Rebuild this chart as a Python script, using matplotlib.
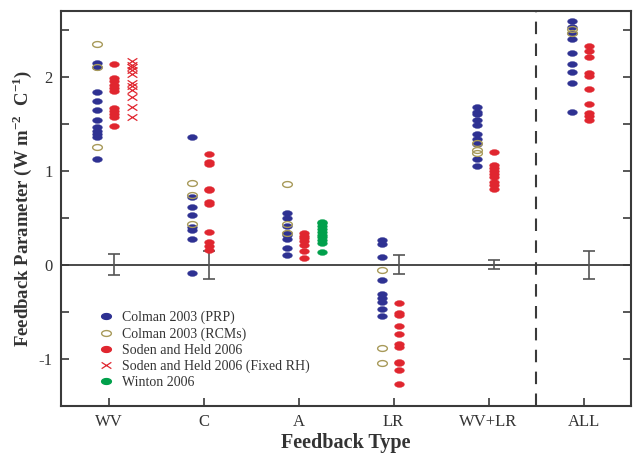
import numpy as np
import matplotlib
matplotlib.use("Agg")
import matplotlib.pyplot as plt
from matplotlib.path import Path
from matplotlib.lines import Line2D

categories = ["WV", "C", "A", "LR", "WV+LR", "ALL"]

colman_prp = [
    [2.15, 2.10, 1.84, 1.74, 1.65, 1.54, 1.47, 1.42, 1.39, 1.36, 1.13],
    [1.36, 0.72, 0.61, 0.53, 0.40, 0.37, 0.27, -0.09],
    [0.555, 0.50, 0.41, 0.34, 0.32, 0.27, 0.18, 0.10],
    [0.265, 0.22, 0.08, -0.16, -0.31, -0.35, -0.40, -0.47, -0.55],
    [1.68, 1.62, 1.60, 1.545, 1.49, 1.39, 1.34, 1.28, 1.12, 1.05],
    [2.59, 2.53, 2.47, 2.40, 2.25, 2.14, 2.05, 1.93, 1.63],
]
colman_rcm = [
    [2.35, 2.10, 1.25],
    [0.87, 0.74, 0.43],
    [0.86, 0.43, 0.34],
    [-0.06, -0.89, -1.05],
    [1.30, 1.22, 1.19],
    [2.51, 2.47],
]
soden = [
    [2.14, 1.99, 1.96, 1.91, 1.88, 1.85, 1.67, 1.64, 1.60, 1.57, 1.48],
    [1.18, 1.09, 1.07, 0.81, 0.79, 0.67, 0.65, 0.35, 0.24, 0.20, 0.16],
    [0.34, 0.31, 0.28, 0.25, 0.21, 0.15, 0.07],
    [-0.41, -0.51, -0.54, -0.65, -0.74, -0.84, -0.88, -1.03, -1.05, -1.12, -1.27],
    [1.20, 1.06, 1.03, 1.00, 0.97, 0.93, 0.88, 0.85, 0.81],
    [2.33, 2.27, 2.21, 2.04, 2.01, 1.87, 1.71, 1.61, 1.58, 1.54],
]
soden_fixed_rh_wv = [2.17, 2.13, 2.10, 2.07, 2.03, 1.93, 1.90, 1.86, 1.78, 1.68, 1.57]
winton_a = [0.46, 0.44, 0.41, 0.38, 0.35, 0.32, 0.29, 0.26, 0.23, 0.14]

err_categories = ["WV", "C", "LR", "WV+LR", "ALL"]
err_half = [0.11, 0.15, 0.10, 0.05, 0.15]

legend_labels = ["Colman 2003 (PRP)", "Colman 2003 (RCMs)", "Soden and Held 2006",
                 "Soden and Held 2006 (Fixed RH)", "Winton 2006"]

BLUE = "#2E3192"
TAN = "#A89A5A"
RED = "#E0262F"
GREEN = "#00A04B"
DARK = "#3a3a3a"

plt.rcParams['font.family'] = ['Liberation Serif', 'DejaVu Serif']
plt.rcParams['mathtext.fontset'] = 'custom'
plt.rcParams['mathtext.rm'] = 'Liberation Serif'
plt.rcParams['mathtext.bf'] = 'Liberation Serif:bold'

# ellipse marker
t = np.linspace(0, 2 * np.pi, 60)
ell = Path(np.column_stack([np.cos(t), 0.6 * np.sin(t)]), closed=True)
xmark = Path([(-1, -0.65), (1, 0.65), (-1, 0.65), (1, -0.65)],
             [Path.MOVETO, Path.LINETO, Path.MOVETO, Path.LINETO])

fig = plt.figure(figsize=(6.33, 4.54), dpi=100)
ax = fig.add_axes([61 / 633, 1 - 405.7 / 454, 570 / 633, (405.7 - 11) / 454])

xpos = np.arange(1, len(categories) + 1)
OFF_L, OFF_R, OFF_X = -0.12, 0.06, 0.25
MS = 7.0

for i, x in enumerate(xpos):
    ax.plot([x + OFF_L] * len(colman_prp[i]), colman_prp[i], ls='none', marker=ell,
            ms=MS, mfc=BLUE, mec=BLUE, mew=0.3, zorder=3)
    ax.plot([x + OFF_L] * len(colman_rcm[i]), colman_rcm[i], ls='none', marker=ell,
            ms=MS, mfc='none', mec=TAN, mew=1.0, zorder=4)
    ax.plot([x + OFF_R] * len(soden[i]), soden[i], ls='none', marker=ell,
            ms=MS, mfc=RED, mec=RED, mew=0.3, zorder=3)

ax.plot([xpos[0] + OFF_X] * len(soden_fixed_rh_wv), soden_fixed_rh_wv, ls='none',
        marker=xmark, ms=MS, mec=RED, mew=0.9, zorder=3)
ax.plot([xpos[2] + OFF_X] * len(winton_a), winton_a, ls='none', marker=ell,
        ms=MS, mfc=GREEN, mec=GREEN, mew=0.3, zorder=3)

ex = [xpos[categories.index(c)] + OFF_R for c in err_categories]
ax.errorbar(ex, [0] * len(ex), yerr=err_half, fmt='none', ecolor='#555555',
            elinewidth=1.2, capsize=4.5, capthick=1.2, zorder=2)

ax.axhline(0, color=DARK, lw=1.3, zorder=1)
ax.axvline(5.5, color=DARK, lw=1.5, dashes=(6, 4.5), zorder=1)

ax.set_xlim(0.5, 6.5)
ax.set_ylim(-1.5, 2.7)
ax.set_xticks(list(xpos) + [5.5])
ax.set_xticklabels(categories + [""])
yt = np.arange(-1.5, 2.51, 0.5)
ax.set_yticks(yt)
ax.set_yticklabels([("%d" % v) if abs(v - round(v)) < 1e-9 else "" for v in yt])
ax.tick_params(axis='both', direction='in', length=6, width=1.2, colors=DARK,
               labelcolor='#333333', labelsize=12)
ax.tick_params(axis='y', right=True, pad=6)
ax.tick_params(axis='x', pad=6)
for s in ax.spines.values():
    s.set_color(DARK)
    s.set_linewidth(1.5)

ax.set_xlabel("Feedback Type", fontsize=14.5, fontweight='bold', color='#333333', labelpad=2)
ax.set_ylabel(r"Feedback Parameter (W m$^{\mathbf{-2}}$  C$^{\mathbf{-1}}$)", fontsize=13.5,
              fontweight='bold', color='#333333', labelpad=3)

handles = [
    Line2D([], [], ls='none', marker=ell, ms=MS, mfc=BLUE, mec=BLUE),
    Line2D([], [], ls='none', marker=ell, ms=MS, mfc='none', mec=TAN, mew=1.0),
    Line2D([], [], ls='none', marker=ell, ms=MS, mfc=RED, mec=RED),
    Line2D([], [], ls='none', marker=xmark, ms=MS, mec=RED, mew=0.9),
    Line2D([], [], ls='none', marker=ell, ms=MS, mfc=GREEN, mec=GREEN),
]
leg = ax.legend(handles, legend_labels, loc='upper left', bbox_to_anchor=(0.06, 0.255),
                frameon=False, fontsize=10, handlelength=0.8, handletextpad=0.7,
                labelspacing=0.22, borderaxespad=0)
for txt in leg.get_texts():
    txt.set_color('#333333')

fig.savefig("out.png", dpi=100)
